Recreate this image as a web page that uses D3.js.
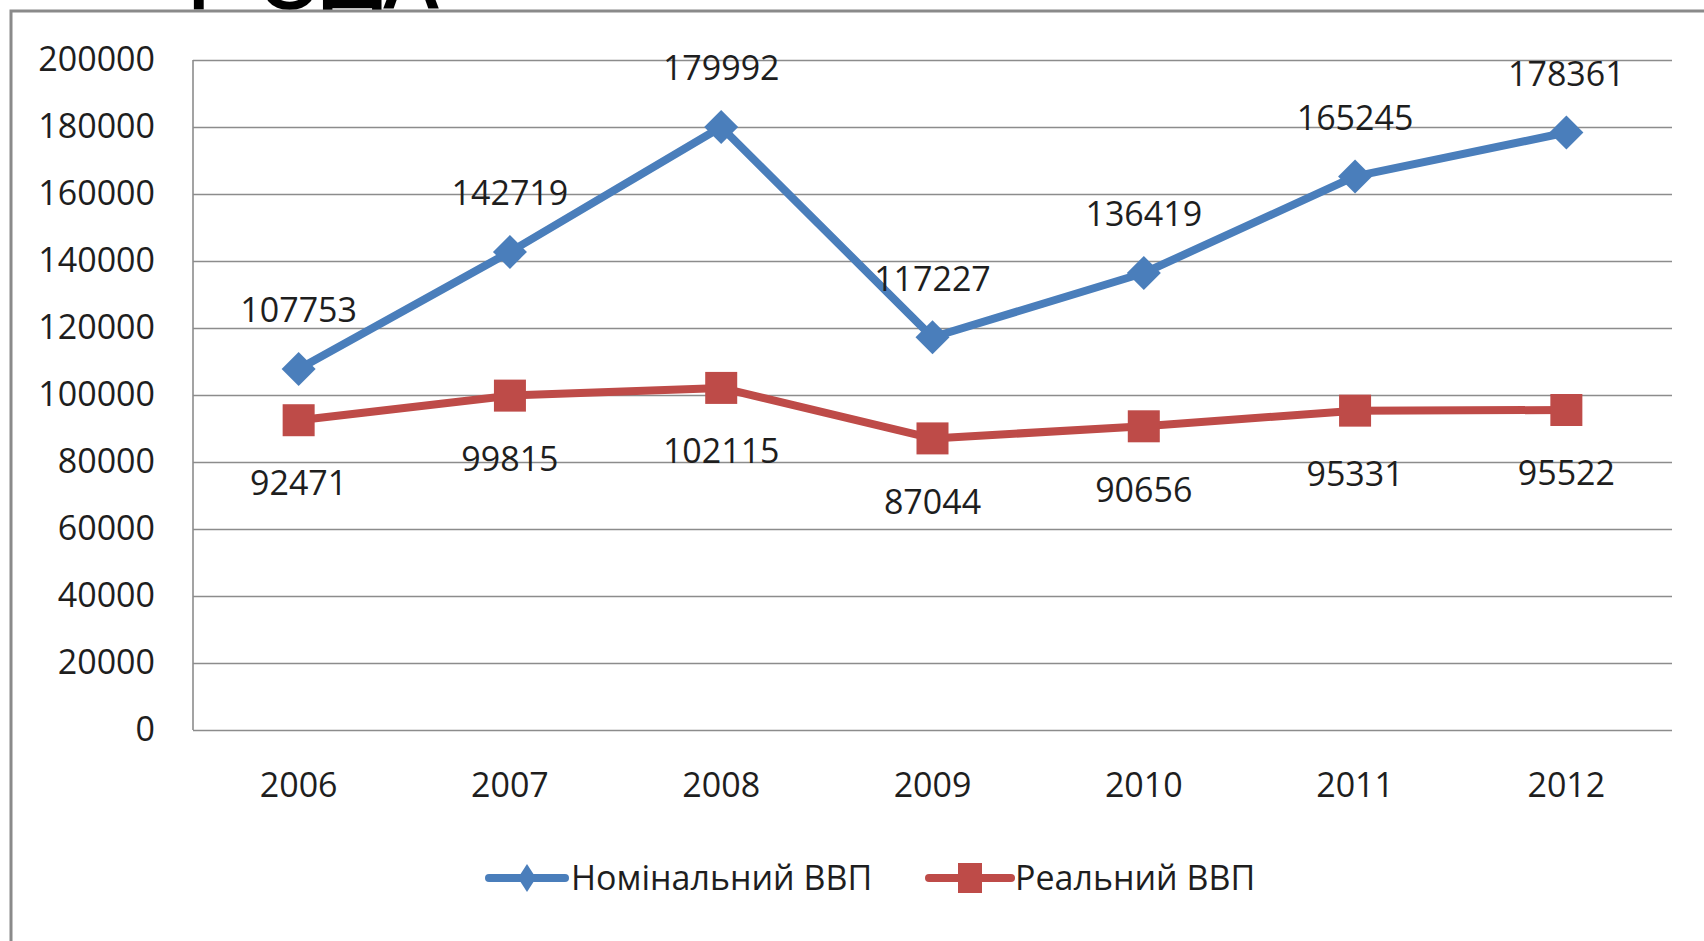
<!DOCTYPE html>
<html>
<head>
<meta charset="utf-8">
<script src="https://cdn.jsdelivr.net/npm/d3@7"></script>
<style>
  html, body { margin: 0; padding: 0; background: #fff; }
  svg { display: block; }
  text { font-family: "Open Sans", "Noto Sans", sans-serif; fill: #1e1e1e; }
</style>
</head>
<body>
<svg id="chart" width="1704" height="941"></svg>
<script>
// data
const years = ['2006', '2007', '2008', '2009', '2010', '2011', '2012'];
const nominal = [107753, 142719, 179992, 117227, 136419, 165245, 178361];
const real = [92471, 99815, 102115, 87044, 90656, 95331, 95522];
const yTicks = [0, 20000, 40000, 60000, 80000, 100000, 120000, 140000, 160000, 180000, 200000];
const seriesNames = ['Номінальний ВВП', 'Реальний ВВП'];

const blue = '#4a7ebb';
const red = '#be4b48';
const grid = '#8c8c8c';

const svg = d3.select('#chart');

// slide title, mostly cut off by the top of the page
const title = svg.append('text')
    .attr('x', 186)
    .attr('y', 9)
    .style('font-size', '84px')
    .style('font-weight', 600)
    .style('fill', '#000');
title.append('tspan').text('Г');
title.append('tspan').attr('dx', 25).text('ОДА');

// chart frame
svg.append('rect')
    .attr('x', 11).attr('y', 11)
    .attr('width', 1710).attr('height', 950)
    .attr('fill', '#fff')
    .attr('stroke', '#8a8a8a')
    .attr('stroke-width', 3);

const plotLeft = 193, plotRight = 1672, plotTop = 60, plotBottom = 730;

const x = d3.scaleBand().domain(years).range([plotLeft, plotRight]);
const y = d3.scaleLinear().domain([0, 200000]).range([plotBottom, plotTop]);
const cx = d => x(d) + x.bandwidth() / 2;

// gridlines
svg.append('g')
    .attr('transform', `translate(${plotLeft},0)`)
    .call(d3.axisLeft(y).tickValues(yTicks).tickSize(-(plotRight - plotLeft)).tickFormat(''))
    .call(g => g.select('.domain').remove())
    .call(g => g.selectAll('line').attr('stroke', grid).attr('stroke-width', 1.6));

// vertical axis line
svg.append('line')
    .attr('x1', plotLeft).attr('x2', plotLeft)
    .attr('y1', plotTop).attr('y2', plotBottom)
    .attr('stroke', grid).attr('stroke-width', 1.6);

// y labels
svg.append('g')
    .attr('transform', `translate(${plotLeft},0)`)
    .call(d3.axisLeft(y).tickValues(yTicks).tickSize(0).tickPadding(38).tickFormat(d3.format('d')))
    .call(g => g.select('.domain').remove())
    .call(g => g.selectAll('text').style('font-size', '34px'))
    .attr('font-family', null);

// x labels
svg.append('g')
    .attr('transform', `translate(0,${plotBottom})`)
    .call(d3.axisBottom(x).tickSize(0).tickPadding(43))
    .call(g => g.select('.domain').remove())
    .call(g => g.selectAll('text').style('font-size', '34px'))
    .attr('font-family', null);

const line = d3.line().x((d, i) => cx(years[i])).y(d => y(d));

// nominal GDP
svg.append('path')
    .datum(nominal)
    .attr('d', line)
    .attr('fill', 'none')
    .attr('stroke', blue)
    .attr('stroke-width', 8)
    .attr('stroke-linejoin', 'round');

// real GDP
svg.append('path')
    .datum(real)
    .attr('d', line)
    .attr('fill', 'none')
    .attr('stroke', red)
    .attr('stroke-width', 8)
    .attr('stroke-linejoin', 'round');

const diamond = (px, py, w, h) => `M${px},${py - h}L${px + w},${py}L${px},${py + h}L${px - w},${py}Z`;

svg.selectAll('.nom-marker')
    .data(nominal)
    .enter().append('path')
    .attr('class', 'nom-marker')
    .attr('d', (d, i) => diamond(cx(years[i]), y(d), 17, 17))
    .attr('fill', blue);

svg.selectAll('.real-marker')
    .data(real)
    .enter().append('rect')
    .attr('class', 'real-marker')
    .attr('x', (d, i) => cx(years[i]) - 16)
    .attr('y', d => y(d) - 16)
    .attr('width', 32).attr('height', 32)
    .attr('fill', red);

// data labels
svg.selectAll('.nom-label')
    .data(nominal)
    .enter().append('text')
    .attr('class', 'nom-label')
    .attr('x', (d, i) => cx(years[i]))
    .attr('y', d => y(d) - 59)
    .attr('dy', '0.36em')
    .attr('text-anchor', 'middle')
    .style('font-size', '34px')
    .text(d => d);

svg.selectAll('.real-label')
    .data(real)
    .enter().append('text')
    .attr('class', 'real-label')
    .attr('x', (d, i) => cx(years[i]))
    .attr('y', d => y(d) + 63)
    .attr('dy', '0.36em')
    .attr('text-anchor', 'middle')
    .style('font-size', '34px')
    .text(d => d);

// legend
const legendY = 878;
const legend = [
    { name: seriesNames[0], color: blue, x0: 489, x1: 565, shape: 'diamond', tx: 571 },
    { name: seriesNames[1], color: red, x0: 929, x1: 1011, shape: 'square', tx: 1015 }
];
legend.forEach(l => {
    svg.append('line')
        .attr('x1', l.x0).attr('x2', l.x1)
        .attr('y1', legendY).attr('y2', legendY)
        .attr('stroke', l.color).attr('stroke-width', 8)
        .attr('stroke-linecap', 'round');
    const mx = (l.x0 + l.x1) / 2;
    if (l.shape === 'diamond') {
        svg.append('path').attr('d', diamond(mx, legendY, 9, 14)).attr('fill', l.color);
    } else {
        svg.append('rect')
            .attr('x', mx - 12).attr('y', legendY - 15)
            .attr('width', 24).attr('height', 30)
            .attr('fill', l.color);
    }
    svg.append('text')
        .attr('x', l.tx)
        .attr('y', legendY)
        .attr('dy', '0.36em')
        .style('font-size', '34px')
        .text(l.name);
});
</script>
</body>
</html>
